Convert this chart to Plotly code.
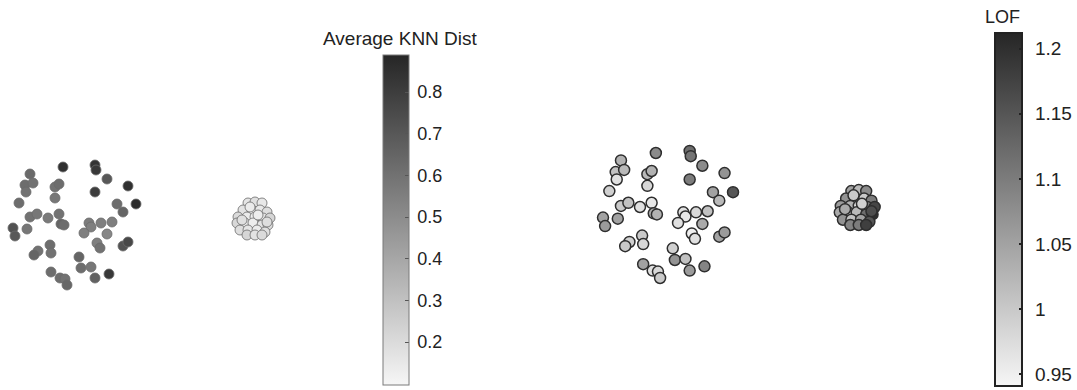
import plotly.graph_objects as go

# ---- data ----
# sparse cluster
sparse_x = [63, 95, 96, 30, 25, 33, 26, 55, 59, 55, 107, 128, 95, 136, 117, 123, 19, 30, 37, 48,
            59, 61, 64, 13, 15, 27, 89, 91, 84, 101, 112, 107, 97, 100, 123, 128, 50, 51, 38, 34,
            79, 81, 91, 51, 60, 65, 67, 95, 109]
sparse_y = [223, 225, 220, 216, 205, 207, 198, 203, 206, 192, 211, 204, 198, 186, 186, 178, 187, 173, 176, 172,
            176, 166, 165, 162, 154, 161, 167, 163, 157, 167, 168, 156, 147, 142, 144, 148, 145, 137, 139, 135,
            133, 122, 123, 118, 112, 111, 105, 112, 116]
sparse_knn = [0.85, 0.84, 0.82, 0.63, 0.62, 0.60, 0.60, 0.60, 0.62, 0.58, 0.70, 0.85, 0.80, 0.87, 0.62, 0.65, 0.62, 0.60, 0.58, 0.57,
              0.60, 0.65, 0.62, 0.72, 0.70, 0.58, 0.56, 0.55, 0.55, 0.55, 0.55, 0.52, 0.55, 0.60, 0.72, 0.76, 0.62, 0.60, 0.60, 0.65,
              0.65, 0.62, 0.58, 0.62, 0.62, 0.60, 0.64, 0.66, 0.82]
sparse_lof = [1.08, 1.12, 1.11, 1.03, 1.01, 1.02, 0.97, 1.02, 1.03, 0.98, 1.08, 1.07, 1.10, 1.15, 1.05, 1.02, 0.99, 1.00, 1.01, 0.97,
              0.96, 1.04, 1.03, 1.05, 1.06, 1.05, 0.97, 0.96, 0.97, 0.98, 1.01, 1.04, 0.95, 0.97, 1.05, 1.06, 1.00, 0.98, 0.99, 1.00,
              0.99, 1.07, 1.01, 1.05, 0.97, 0.98, 1.00, 1.06, 1.09]

# dense cluster
dense_x = [248, 255, 262, 243, 252, 260, 267, 238, 247, 255, 263, 270, 237, 245, 253, 262, 268, 240, 248, 257,
           265, 247, 255, 262, 250, 258, 242, 267]
dense_y = [187, 188, 187, 180, 180, 180, 178, 173, 173, 173, 172, 172, 167, 167, 167, 165, 165, 160, 160, 160,
           158, 155, 155, 155, 183, 175, 170, 168]
dense_knn = [0.16, 0.18, 0.15, 0.17, 0.13, 0.15, 0.19, 0.20, 0.14, 0.12, 0.16, 0.22, 0.21, 0.15, 0.13, 0.17, 0.20, 0.19, 0.16, 0.14,
             0.18, 0.22, 0.17, 0.20, 0.14, 0.13, 0.18, 0.19]
dense_lof = [1.05, 1.02, 1.08, 1.07, 0.98, 1.00, 1.10, 1.06, 1.03, 0.97, 1.08, 1.17, 1.04, 0.99, 1.02, 1.12, 1.20, 1.07, 1.01, 1.05,
             1.15, 1.09, 1.10, 1.18, 1.00, 0.99, 1.04, 1.16]

knn_ticks = [0.2, 0.3, 0.4, 0.5, 0.6, 0.7, 0.8]
lof_ticks = [0.95, 1.0, 1.05, 1.1, 1.15, 1.2]
lof_tick_text = ["0.95", "1", "1.05", "1.1", "1.15", "1.2"]

# ---- styling ----
W, H = 1077, 390
gray_scale = [[0, "#f6f6f6"], [1, "#262626"]]
knn_min, knn_max = 0.097, 0.889
lof_min, lof_max = 0.941, 1.212
FONT = "Liberation Sans, Arial, sans-serif"
PAD = "\u2009"

all_x = sparse_x + dense_x
all_y = sparse_y + dense_y

fig = go.Figure()

fig.add_trace(go.Scatter(
    x=all_x, y=all_y, mode="markers", xaxis="x", yaxis="y", showlegend=False,
    marker=dict(size=10, color=sparse_knn + dense_knn, colorscale=gray_scale,
                cmin=knn_min, cmax=knn_max,
                line=dict(width=0.8, color="#6a6a6a"),
                colorbar=dict(
                    x=383 / W, xanchor="left", xpad=0,
                    y=(H - 385) / H, yanchor="bottom", ypad=0,
                    len=330 / H, lenmode="fraction",
                    thickness=26, outlinewidth=1, outlinecolor="#7a7a7a",
                    tickvals=knn_ticks, ticktext=[PAD + str(t) for t in knn_ticks],
                    ticks="inside", ticklen=4, tickcolor="#555", tickwidth=1,
                    tickfont=dict(family=FONT, size=18, color="#222"),
                )),
))

fig.add_trace(go.Scatter(
    x=all_x, y=all_y, mode="markers", xaxis="x2", yaxis="y2", showlegend=False,
    marker=dict(size=11, color=sparse_lof + dense_lof, colorscale=gray_scale,
                cmin=lof_min, cmax=lof_max,
                line=dict(width=1.5, color="#2e2e2e"),
                colorbar=dict(
                    x=995 / W, xanchor="left", xpad=0,
                    y=(H - 386) / H, yanchor="bottom", ypad=0,
                    len=353 / H, lenmode="fraction",
                    thickness=27, outlinewidth=2, outlinecolor="#222",
                    tickvals=lof_ticks, ticktext=[PAD + PAD + t for t in lof_tick_text],
                    ticks="inside", ticklen=4, tickcolor="#222", tickwidth=1.5,
                    tickfont=dict(family=FONT, size=19, color="#222"),
                )),
))

# axis ranges so that data maps to the picture's pixel layout
s = 1.057
d2 = [0.5, 0.9]
x2_lo = 13 + (d2[0] * W - 603) / s
x2_hi = 13 + (d2[1] * W - 603) / s
y2_hi = H - (167 - 153 / 1.059)
y2_lo = H - (167 + (H - 153) / 1.059)

ax = dict(visible=False, showgrid=False, zeroline=False, fixedrange=True)
fig.update_layout(
    width=W, height=H, margin=dict(l=0, r=0, t=0, b=0),
    paper_bgcolor="white", plot_bgcolor="white",
    xaxis=dict(domain=[0, 0.33], range=[0, 0.33 * W], **ax),
    yaxis=dict(domain=[0, 1], range=[0, H], **ax),
    xaxis2=dict(domain=d2, range=[x2_lo, x2_hi], **ax),
    yaxis2=dict(domain=[0, 1], range=[y2_lo, y2_hi], anchor="x2", **ax),
    annotations=[
        dict(text="Average KNN Dist", x=400 / W, y=1 - 39 / H, xref="paper", yref="paper",
             xanchor="center", yanchor="middle", showarrow=False,
             font=dict(family=FONT, size=19, color="#222")),
        dict(text="LOF", x=1002.5 / W, y=1 - 17.5 / H, xref="paper", yref="paper",
             xanchor="center", yanchor="middle", showarrow=False,
             font=dict(family=FONT, size=18, color="#222")),
    ],
)

fig.write_html("out.html")
